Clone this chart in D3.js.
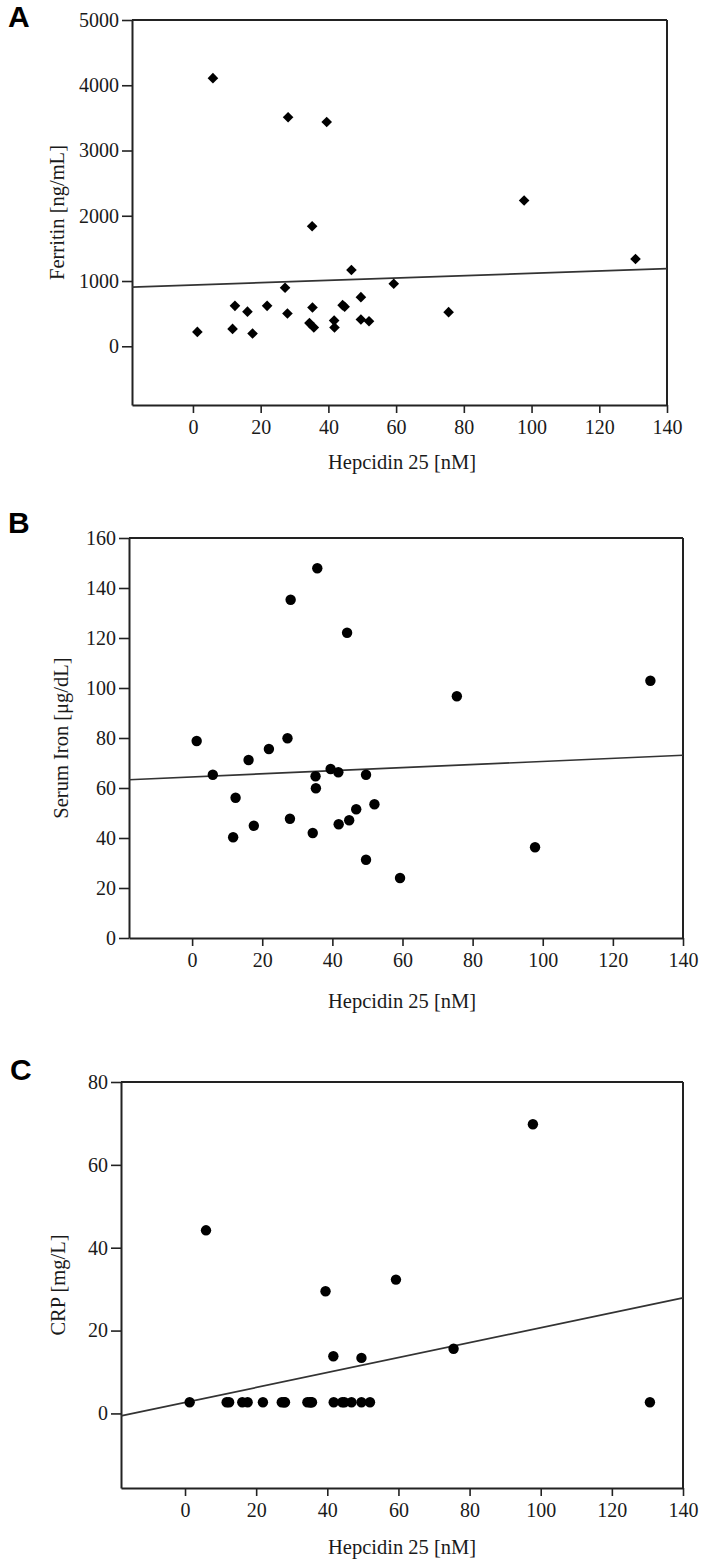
<!DOCTYPE html>
<html>
<head>
<meta charset="utf-8">
<script src="https://cdn.jsdelivr.net/npm/d3@7"></script>
<style>
  html, body { margin: 0; padding: 0; background: #fff; }
  svg { display: block; }
  .tick text { font-family: "Liberation Serif", "Times New Roman", serif; font-size: 20px; fill: #1a1a1a; }
  .title { font-family: "Liberation Serif", "Times New Roman", serif; font-size: 20.5px; fill: #1a1a1a; }
  .letter { font-family: "Liberation Sans", Arial, sans-serif; font-weight: bold; font-size: 30px; fill: #000; }
</style>
</head>
<body>
<script>
// ---- Data ----
const hepcidin = [1.3, 5.9, 11.7, 12.4, 16.1, 17.6, 21.9, 27.2, 27.9, 28.1, 34.4, 35.2, 35.3, 35.7, 39.5, 41.7, 41.8, 44.2, 44.8, 46.8, 49.6, 49.6, 52.0, 59.3, 75.5, 97.8, 130.7];
const ferritin = [220, 4109, 266, 620, 530, 195, 620, 897, 502, 3509, 355, 1839, 595, 287, 3437, 394, 287, 630, 605, 1168, 753, 410, 384, 958, 523, 2234, 1337];
const serumIron = [78.8, 65.3, 40.3, 56.1, 71.2, 44.9, 75.6, 79.9, 47.7, 135.3, 42.0, 64.7, 59.9, 147.9, 67.6, 66.3, 45.5, 122.1, 47.1, 51.5, 65.3, 31.3, 53.5, 24.0, 96.7, 36.3, 102.9];
const crp = [2.7, 44.2, 2.7, 2.7, 2.7, 2.7, 2.7, 2.7, 2.7, 2.7, 2.7, 2.7, 2.7, 2.7, 29.5, 13.8, 2.7, 2.7, 2.7, 2.7, 13.4, 2.7, 2.7, 32.3, 15.6, 69.8, 2.7];

// regression line end values at x = -18 and x = 140
const fitX = [-18, 140];
const fitFerritin = [907, 1189];
const fitIron = [63.3, 73.1];
const fitCrp = [-0.6, 27.9];

const xTicks = [0, 20, 40, 60, 80, 100, 120, 140];
const ferritinTicks = [0, 1000, 2000, 3000, 4000, 5000];
const ironTicks = [0, 20, 40, 60, 80, 100, 120, 140, 160];
const crpTicks = [0, 20, 40, 60, 80];

const xTitle = "Hepcidin 25 [nM]";

// ---- Layout ----
const panels = [
  { letter: "A", lx: 8, ly: 27, values: ferritin, fit: fitFerritin, yDomain: [-900, 5000], yTicks: ferritinTicks,
    yTitle: "Ferritin [ng/mL]", left: 132, right: 667, top: 20, bottom: 405, yTitleX: 57, xTitleY: 469, shape: "diamond" },
  { letter: "B", lx: 8, ly: 533, values: serumIron, fit: fitIron, yDomain: [0, 160], yTicks: ironTicks,
    yTitle: "Serum Iron [\u03bcg/dL]", left: 129, right: 683, top: 538, bottom: 938, yTitleX: 61, xTitleY: 1008, shape: "circle" },
  { letter: "C", lx: 10, ly: 1080, values: crp, fit: fitCrp, yDomain: [-18, 80], yTicks: crpTicks,
    yTitle: "CRP [mg/L]", left: 121, right: 683, top: 1082, bottom: 1488, yTitleX: 58, xTitleY: 1554, shape: "circle" }
];

const svg = d3.select("body").append("svg").attr("width", 701).attr("height", 1562);
svg.append("rect").attr("width", 701).attr("height", 1562).attr("fill", "#fff");

panels.forEach(p => {
  const g = svg.append("g");
  const x = d3.scaleLinear().domain([-18, 140]).range([p.left, p.right]);
  const y = d3.scaleLinear().domain(p.yDomain).range([p.bottom, p.top]);

  // frame (top & right)
  g.append("line").attr("x1", p.left).attr("x2", p.right).attr("y1", p.top).attr("y2", p.top)
    .attr("stroke", "#222").attr("stroke-width", 2);
  g.append("line").attr("x1", p.right).attr("x2", p.right).attr("y1", p.top).attr("y2", p.bottom)
    .attr("stroke", "#222").attr("stroke-width", 2);

  // axes
  const fmt = d3.format("d");
  const xAxis = g.append("g").attr("transform", `translate(0,${p.bottom})`)
    .call(d3.axisBottom(x).tickValues(xTicks).tickFormat(fmt).tickSize(8).tickPadding(7).tickSizeOuter(0));
  const yAxis = g.append("g").attr("transform", `translate(${p.left},0)`)
    .call(d3.axisLeft(y).tickValues(p.yTicks).tickFormat(fmt).tickSize(10).tickPadding(3).tickSizeOuter(0));
  [xAxis, yAxis].forEach(a => {
    a.select(".domain").attr("stroke", "#222").attr("stroke-width", 2);
    a.selectAll(".tick line").attr("stroke", "#222").attr("stroke-width", 1.6);
  });

  // regression line
  g.append("line")
    .attr("x1", x(fitX[0])).attr("y1", y(p.fit[0]))
    .attr("x2", x(fitX[1])).attr("y2", y(p.fit[1]))
    .attr("stroke", "#333").attr("stroke-width", 1.7);

  // points
  const pts = hepcidin.map((h, i) => ({ h, v: p.values[i] }));
  if (p.shape === "diamond") {
    const sym = d3.symbol().type(d3.symbolDiamond2).size(72);
    g.selectAll("path.pt").data(pts).join("path").attr("class", "pt")
      .attr("d", sym)
      .attr("transform", d => `translate(${x(d.h)},${y(d.v)})`)
      .attr("fill", "#000");
  } else {
    g.selectAll("circle.pt").data(pts).join("circle").attr("class", "pt")
      .attr("cx", d => x(d.h)).attr("cy", d => y(d.v)).attr("r", 5.2)
      .attr("fill", "#000");
  }

  // titles
  g.append("text").attr("class", "title")
    .attr("x", 402).attr("y", p.xTitleY).attr("text-anchor", "middle").text(xTitle);
  g.append("text").attr("class", "title")
    .attr("transform", `translate(${p.yTitleX},${(p.top + p.bottom) / 2}) rotate(-90)`)
    .attr("text-anchor", "middle").attr("dy", "0.35em").text(p.yTitle);

  // panel letter
  g.append("text").attr("class", "letter").attr("x", p.lx).attr("y", p.ly).text(p.letter);
});
</script>
</body>
</html>
